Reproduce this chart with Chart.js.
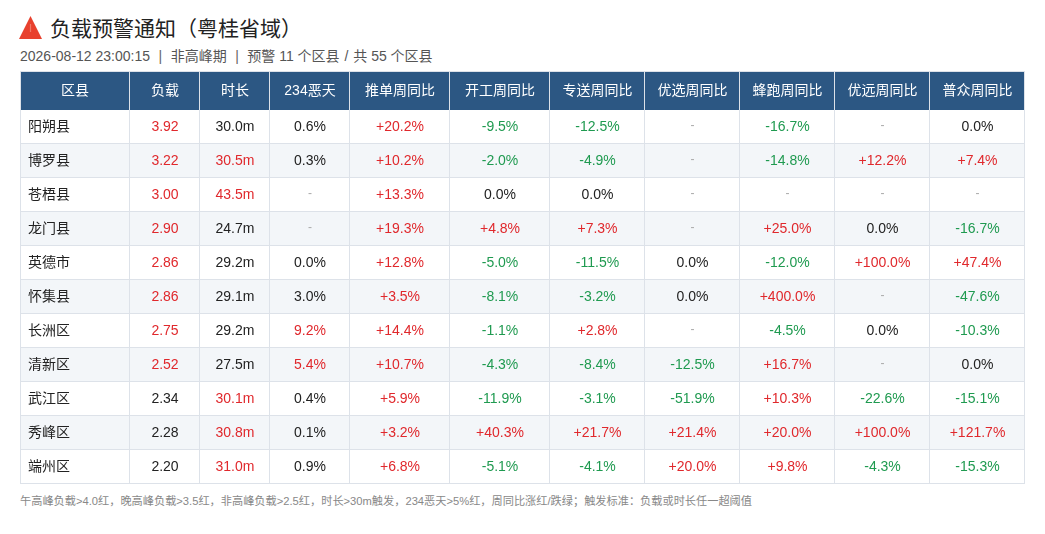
<!DOCTYPE html>
<html>
<head>
<meta charset="utf-8">
<script src="https://cdn.jsdelivr.net/npm/chart.js@4.4.1/dist/chart.umd.min.js"></script>
<style>
  html, body { margin: 0; padding: 0; background: #ffffff; }
  body { width: 1045px; height: 534px; position: relative; overflow: hidden;
         font-family: "Liberation Sans", "Noto Sans CJK SC", sans-serif; }
  #icon { position: absolute; left: 19px; top: 16px; width: 23px; height: 23px; }
  #title { position: absolute; left: 50px; top: 15px; height: 28px; line-height: 28px;
           font-size: 21px; color: #222; white-space: nowrap; }
  #subtitle { position: absolute; left: 20px; top: 46px; height: 20px; line-height: 20px;
              font-size: 14px; color: #555; white-space: nowrap; }
  #subtitle .sep { margin: 0 8.5px; color: #666; }
  #subtitle .sl { margin: 0 1px; }
  #footer { position: absolute; left: 20px; top: 493px; height: 16px; line-height: 16px;
            font-size: 11.2px; color: #888; white-space: nowrap; }
  #wrap { position: absolute; left: 19px; top: 70px; width: 1007px; height: 415px; }
  canvas { display: block; }
</style>
</head>
<body>
<svg id="icon" viewBox="0 0 23 23"><polygon points="11.5,0 23,23 0,23" fill="#e8412e"/><rect x="10.9" y="8" width="1.2" height="8" fill="#f07a69"/></svg>
<div id="title">负载预警通知（粤桂省域）</div>
<div id="subtitle">2026-08-12 23:00:15<span class="sep">|</span>非高峰期<span class="sep">|</span>预警 11 个区县 <span class="sl">/</span> 共 55 个区县</div>
<div id="wrap"><canvas id="c" width="1007" height="415"></canvas></div>
<div id="footer">午高峰负载&gt;4.0红，晚高峰负载&gt;3.5红，非高峰负载&gt;2.5红，时长&gt;30m触发，234恶天&gt;5%红，周同比涨红/跌绿；触发标准：负载或时长任一超阈值</div>
<script>
// ---------- data ----------
const columns = ['区县', '负载', '时长', '234恶天', '推单周同比', '开工周同比', '专送周同比', '优选周同比', '蜂跑周同比', '优远周同比', '普众周同比'];
const districts = ['阳朔县', '博罗县', '苍梧县', '龙门县', '英德市', '怀集县', '长洲区', '清新区', '武江区', '秀峰区', '端州区'];
const loadVals = [3.92, 3.22, 3.00, 2.90, 2.86, 2.86, 2.75, 2.52, 2.34, 2.28, 2.20];
const durationVals = [30.0, 30.5, 43.5, 24.7, 29.2, 29.1, 29.2, 27.5, 30.1, 30.8, 31.0];
const bad234Vals = [0.6, 0.3, null, null, 0.0, 3.0, 9.2, 5.4, 0.4, 0.1, 0.9];
const pushWoW = [20.2, 10.2, 13.3, 19.3, 12.8, 3.5, 14.4, 10.7, 5.9, 3.2, 6.8];
const workWoW = [-9.5, -2.0, 0.0, 4.8, -5.0, -8.1, -1.1, -4.3, -11.9, 40.3, -5.1];
const deliveryWoW = [-12.5, -4.9, 0.0, 7.3, -11.5, -3.2, 2.8, -8.4, -3.1, 21.7, -4.1];
const youxuanWoW = [null, null, null, null, 0.0, 0.0, null, -12.5, -51.9, 21.4, 20.0];
const fengpaoWoW = [-16.7, -14.8, null, 25.0, -12.0, 400.0, -4.5, 16.7, 10.3, 20.0, 9.8];
const youyuanWoW = [null, 12.2, null, 0.0, 100.0, null, 0.0, null, -22.6, 100.0, -4.3];
const puzhongWoW = [0.0, 7.4, null, -16.7, 47.4, -47.6, -10.3, 0.0, -15.1, 121.7, -15.3];
const wowSeries = [pushWoW, workWoW, deliveryWoW, youxuanWoW, fengpaoWoW, youyuanWoW, puzhongWoW];
const loadThreshold = 2.5, durationThreshold = 30, bad234Threshold = 5;

// ---------- layout / style ----------
const layout = { colWidths: [110, 70, 70, 80, 100, 100, 95, 95, 95, 95, 95], headerH: 39, rowH: 34, padLeft: 8 };
const style = {
  headerBg: '#2c5783', rowBg: '#ffffff', altBg: '#f3f6f9', grid: '#dde2e9',
  text: '#222222', red: '#e0282c', green: '#1f9a50', dash: '#aaaaaa', headerText: '#ffffff',
  font: '"Liberation Sans", "Noto Sans CJK SC", sans-serif'
};

const bounds = [0];
layout.colWidths.forEach(w => bounds.push(bounds[bounds.length - 1] + w));
const totalW = bounds[bounds.length - 1];
const totalH = layout.headerH + layout.rowH * districts.length;

function cellInfo(r, c) {
  if (c === 0) return { t: districts[r], col: style.text, left: true };
  if (c === 1) { const v = loadVals[r]; return { t: v.toFixed(2), col: v > loadThreshold ? style.red : style.text }; }
  if (c === 2) { const v = durationVals[r]; return { t: v.toFixed(1) + 'm', col: v > durationThreshold ? style.red : style.text }; }
  if (c === 3) {
    const v = bad234Vals[r];
    if (v === null) return { t: '-', col: style.dash, dash: true };
    return { t: v.toFixed(1) + '%', col: v > bad234Threshold ? style.red : style.text };
  }
  const v = wowSeries[c - 4][r];
  if (v === null) return { t: '-', col: style.dash, dash: true };
  if (v > 0) return { t: '+' + v.toFixed(1) + '%', col: style.red };
  if (v < 0) return { t: v.toFixed(1) + '%', col: style.green };
  return { t: v.toFixed(1) + '%', col: style.text };
}

const datasets = [];
// header row
datasets.push({
  label: 'header',
  data: columns.map((name, c) => ({ x: [bounds[c], bounds[c + 1]], y: layout.headerH / 2 })),
  barThickness: layout.headerH,
  backgroundColor: style.headerBg,
  borderColor: style.grid,
  borderWidth: ctx => ({ top: 1, right: 1, bottom: 0, left: ctx.dataIndex === 0 ? 1 : 0 }),
  rowIndex: -1
});
districts.forEach((d, r) => {
  datasets.push({
    label: d,
    data: columns.map((name, c) => ({ x: [bounds[c], bounds[c + 1]], y: layout.headerH + layout.rowH * r + layout.rowH / 2 })),
    barThickness: layout.rowH,
    backgroundColor: r % 2 === 1 ? style.altBg : style.rowBg,
    borderColor: style.grid,
    borderWidth: ctx => ({ top: 0, right: 1, bottom: 1, left: ctx.dataIndex === 0 ? 1 : 0 }),
    rowIndex: r
  });
});

const cellText = {
  id: 'cellText',
  afterDatasetsDraw(chart) {
    const ctx = chart.ctx;
    ctx.save();
    ctx.textBaseline = 'middle';
    chart.data.datasets.forEach((ds, di) => {
      const meta = chart.getDatasetMeta(di);
      meta.data.forEach((el, c) => {
        const p = el.getProps(['x', 'y', 'base'], true);
        const l = Math.min(p.x, p.base), rgt = Math.max(p.x, p.base);
        const cx = (l + rgt) / 2;
        if (ds.rowIndex < 0) {
          ctx.font = '14px ' + style.font;
          ctx.fillStyle = style.headerText;
          ctx.textAlign = 'center';
          ctx.fillText(columns[c], cx, p.y + 0.5);
        } else {
          const info = cellInfo(ds.rowIndex, c);
          ctx.font = (info.dash ? '12px ' : '14px ') + style.font;
          ctx.fillStyle = info.col;
          if (info.left) { ctx.textAlign = 'left'; ctx.fillText(info.t, l + layout.padLeft, p.y + 0.5); }
          else { ctx.textAlign = 'center'; ctx.fillText(info.t, cx, p.y + (info.dash ? -1 : 0.5)); }
        }
      });
    });
    ctx.restore();
  }
};

new Chart(document.getElementById('c'), {
  type: 'bar',
  data: { datasets },
  options: {
    indexAxis: 'y',
    responsive: false,
    animation: false,
    devicePixelRatio: 1,
    layout: { padding: 1, autoPadding: false },
    datasets: { bar: { grouped: false, borderSkipped: false, inflateAmount: 0, clip: false } },
    scales: {
      x: { type: 'linear', min: 0, max: totalW, display: false, offset: false, grace: 0 },
      y: { type: 'linear', min: 0, max: totalH, reverse: true, display: false, offset: false, grace: 0 }
    },
    plugins: { legend: { display: false }, tooltip: { enabled: false }, title: { display: false } },
    events: []
  },
  plugins: [cellText]
});
</script>
</body>
</html>
